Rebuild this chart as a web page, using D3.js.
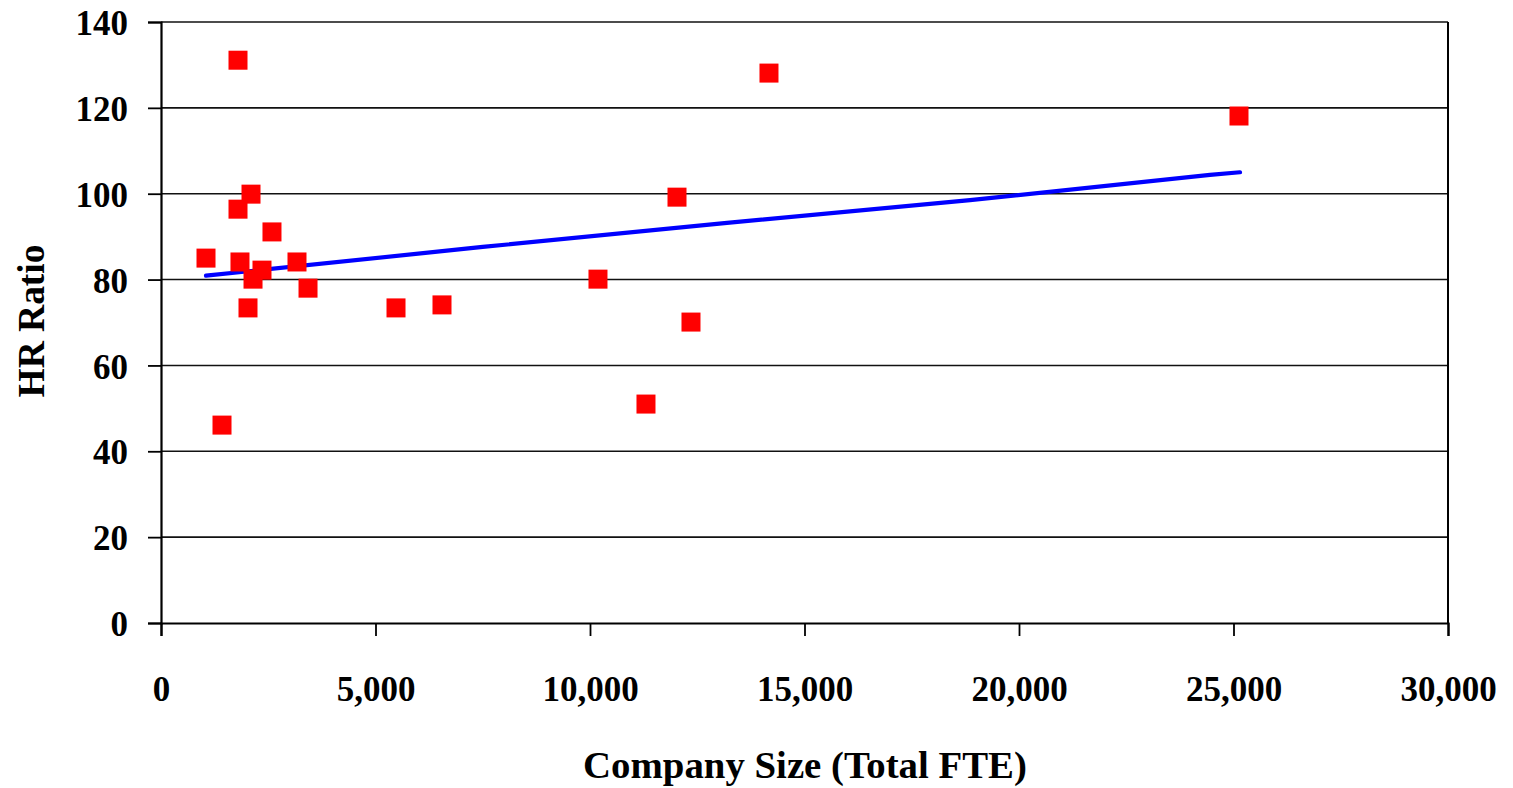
<!DOCTYPE html>
<html>
<head>
<meta charset="utf-8">
<script src="https://cdn.jsdelivr.net/npm/d3@7"></script>
<style>
  html, body { margin: 0; padding: 0; background: #fff; }
  svg { display: block; }
  text { font-family: "Liberation Serif", "Times New Roman", serif; font-weight: bold; fill: #000; }
</style>
</head>
<body>
<svg id="chart" width="1513" height="788"></svg>
<script>
// Data
const companySize = [1795, 14172, 25128, 2098, 12028, 1795, 2587, 1049, 1841, 3170, 2354, 2145, 10186, 3427, 2028, 5478, 6550, 12354, 11305, 1422];
const hrRatio     = [131.1, 128.1, 118.1, 99.9, 99.2, 96.4, 91.1, 85.0, 84.1, 84.1, 82.2, 80.1, 80.1, 78.0, 73.4, 73.4, 74.1, 70.1, 51.0, 46.1];

// Trend line points
const trendX = [1049, 7500, 13193, 18858, 24452, 25151];
const trendY = [80.9, 87.6, 93.2, 98.5, 104.4, 105.0];

const xTicks = [0, 5000, 10000, 15000, 20000, 25000, 30000];
const yTicks = [0, 20, 40, 60, 80, 100, 120, 140];
const xTitle = "Company Size (Total FTE)";
const yTitle = "HR Ratio";

const svg = d3.select("#chart");
const pLeft = 161, pRight = 1448, pTop = 22, pBottom = 623;

const x = d3.scaleLinear().domain([0, 30000]).range([pLeft, pRight]);
const y = d3.scaleLinear().domain([0, 140]).range([pBottom, pTop]);

// Gridlines
svg.append("g").selectAll("line").data(yTicks.filter(d => d > 0)).join("line")
  .attr("x1", pLeft).attr("x2", pRight)
  .attr("y1", d => y(d)).attr("y2", d => y(d))
  .attr("stroke", "#111").attr("stroke-width", 1.6);

// Right border
svg.append("line").attr("x1", pRight).attr("x2", pRight).attr("y1", pTop).attr("y2", pBottom)
  .attr("stroke", "#000").attr("stroke-width", 2);

// Y axis
const yAxis = svg.append("g").attr("transform", `translate(${pLeft},0)`)
  .call(d3.axisLeft(y).tickValues(yTicks).tickSize(13).tickPadding(20).tickFormat(d3.format("d")));
yAxis.select(".domain").attr("stroke", "#000").attr("stroke-width", 2.2);
yAxis.selectAll(".tick line").attr("stroke", "#000").attr("stroke-width", 1.8);
yAxis.selectAll(".tick text").attr("font-size", 35).attr("font-family", "Liberation Serif, serif")
  .attr("font-weight", "bold").attr("fill", "#000").attr("dy", "0.36em");

// X axis
const xAxis = svg.append("g").attr("transform", `translate(0,${pBottom})`)
  .call(d3.axisBottom(x).tickValues(xTicks).tickSize(13).tickPadding(40).tickFormat(d3.format(",")));
xAxis.select(".domain").attr("stroke", "#000").attr("stroke-width", 2.2);
xAxis.selectAll(".tick line").attr("stroke", "#000").attr("stroke-width", 1.8);
xAxis.selectAll(".tick text").attr("font-size", 35).attr("font-family", "Liberation Serif, serif")
  .attr("font-weight", "bold").attr("fill", "#000").attr("dy", "0.71em");

// Trend line
const pts = trendX.map((d, i) => [d, trendY[i]]);
svg.append("path").datum(pts)
  .attr("d", d3.line().x(d => x(d[0])).y(d => y(d[1])))
  .attr("fill", "none").attr("stroke", "#0000ff").attr("stroke-width", 4.2)
  .attr("stroke-linecap", "round").attr("stroke-linejoin", "round");

// Markers
const ms = 19;
const data = companySize.map((d, i) => ({ x: d, y: hrRatio[i] }));
svg.append("g").selectAll("rect").data(data).join("rect")
  .attr("x", d => x(d.x) - ms / 2).attr("y", d => y(d.y) - ms / 2)
  .attr("width", ms).attr("height", ms)
  .attr("fill", "#ff0000");

// Axis titles
const xt = svg.append("text").attr("x", 805).attr("y", 778)
  .attr("text-anchor", "middle").attr("font-size", 35).text(xTitle);
const xw = xt.node().getComputedTextLength();
xt.attr("font-size", 35 * 444 / xw);

const yt = svg.append("text").attr("transform", "translate(44,321) rotate(-90)")
  .attr("text-anchor", "middle").attr("font-size", 35).text(yTitle);
const yw = yt.node().getComputedTextLength();
yt.attr("font-size", 35 * 153 / yw);
</script>
</body>
</html>
